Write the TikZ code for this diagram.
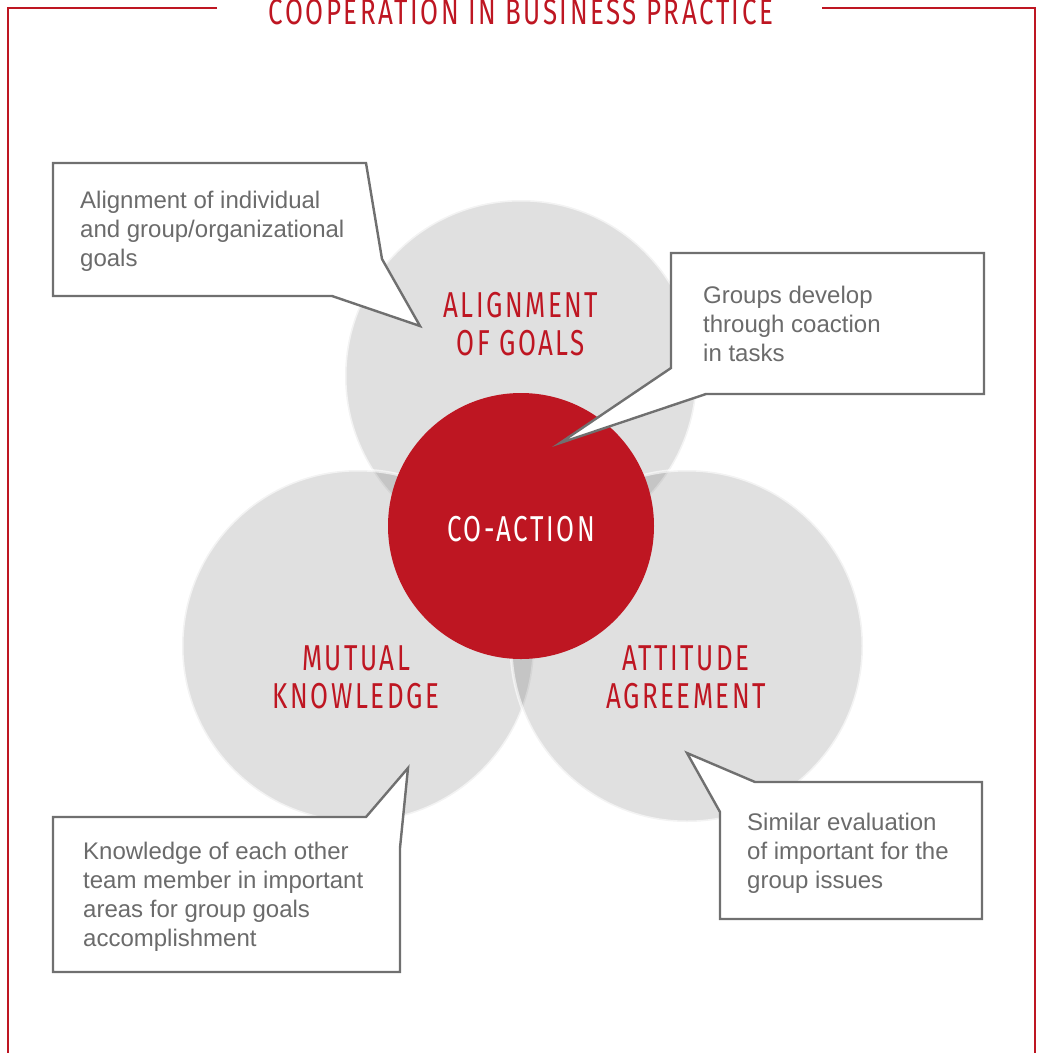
\documentclass[tikz,border=0pt]{standalone}
\usepackage{fontspec}
\setmainfont{Liberation Sans}
\newfontfamily\headfont[FakeStretch=0.72,LetterSpace=7]{Fira Sans}
\usepackage{xcolor}
\usepackage{tikz}
\usetikzlibrary{positioning,calc}
\definecolor{coopred}{HTML}{BE1622}
\definecolor{calloutgray}{HTML}{707070}
\definecolor{textgray}{HTML}{6B6B6B}

\begin{document}
\begin{tikzpicture}[x=1pt, y=-1pt]
\tikzset{
frame/.style    = {draw=coopred, line width=2.6pt},
area/.style     = {circle, fill=black, fill opacity=0.12, draw=white, draw opacity=0.6, line width=3pt, minimum size=352pt, inner sep=0pt},
core/.style     = {circle, fill=coopred, minimum size=266pt, inner sep=0pt},
heading/.style  = {font=\headfont\fontsize{36}{38}\selectfont, text=coopred, align=center},
callout/.style  = {draw=calloutgray, fill=white, line width=2.4pt, line join=miter},
note/.style     = {font=\fontsize{24}{29}\selectfont, text=textgray, align=left, anchor=north west, inner sep=0pt},
}
    \useasboundingbox (0,0) rectangle (1040,1053);

    % Frame
    \node [heading, anchor=base] (title) at (521,24) {COOPERATION IN BUSINESS PRACTICE};
    \draw [frame] (217,8) -- (8,8) -- (8,1060);
    \draw [frame] (822,8) -- (1035,8) -- (1035,1060);

    % Circle nodes
    \node [area] (goals)     at (521,376) {};
    \node [area] (knowledge) at (358,646) {};
    \node [area] (attitude)  at (687,646) {};
    \node [core] (coaction)  at (521,526) {};

    % Circle labels
    \node [heading] (goals_lbl)     at (521,324) {ALIGNMENT\\OF GOALS};
    \node [heading] (knowledge_lbl) at (356,677) {MUTUAL\\KNOWLEDGE};
    \node [heading] (attitude_lbl)  at (686,677) {ATTITUDE\\AGREEMENT};
    \node [heading, text=white] (coaction_lbl) at (521,529) {CO-ACTION};

    % Callouts
    \coordinate (goals_tip)     at (420,326);
    \coordinate (coaction_tip)  at (560,443);
    \coordinate (knowledge_tip) at (408,768);
    \coordinate (attitude_tip)  at (687,753);

    \draw [callout] (53,163) -- (366,163) -- (382,259) -- (goals_tip) -- (332,296) -- (53,296) -- cycle;
    \draw [callout] (671,253) -- (984,253) -- (984,394) -- (706,394) -- (coaction_tip) -- (671,368) -- cycle;
    \draw [callout] (53,817) -- (366,817) -- (knowledge_tip) -- (400,848) -- (400,972) -- (53,972) -- cycle;
    \draw [callout] (attitude_tip) -- (755,782) -- (982,782) -- (982,919) -- (720,919) -- (720,812) -- cycle;

    % Callout texts
    \node [note] (goals_note)     at (80,191)  {Alignment of individual\\and group/organizational\\goals};
    \node [note] (coaction_note)  at (703,286) {Groups develop\\through coaction\\in tasks};
    \node [note] (knowledge_note) at (83,842)  {Knowledge of each other\\team member in important\\areas for group goals\\accomplishment};
    \node [note] (attitude_note)  at (747,813) {Similar evaluation\\of important for the\\group issues};
\end{tikzpicture}
\end{document}
